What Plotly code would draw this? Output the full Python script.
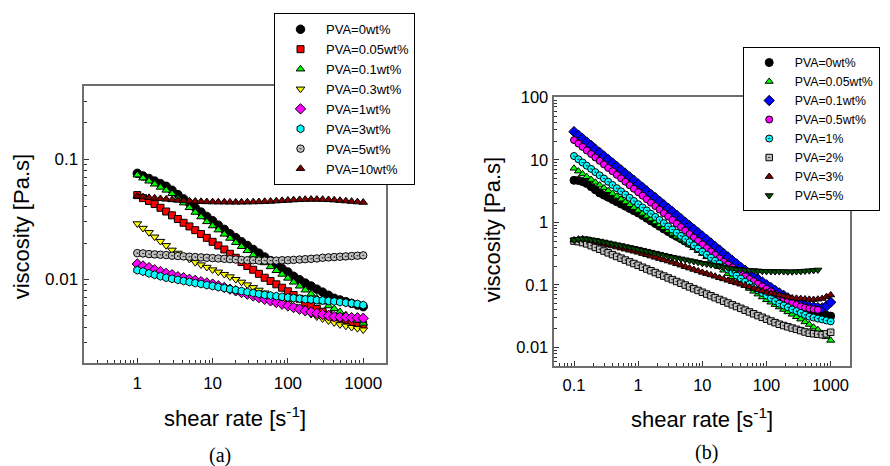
import plotly.graph_objects as go

FONT = "Liberation Sans, Arial, sans-serif"

# ---------------- panel (a) data ----------------
shear_a = [1, 1.19, 1.43, 1.70, 2.03, 2.42, 2.89, 3.46, 4.12, 4.92, 5.88, 7.02, 8.38,
           10, 11.9, 14.3, 17.0, 20.3, 24.2, 28.9, 34.6, 41.2, 49.2, 58.8, 70.2, 83.8,
           100, 119, 143, 170, 203, 242, 289, 346, 412, 492, 588, 702, 838, 1000]

a_pva0 = [0.0760, 0.0723, 0.0689, 0.0655, 0.0624, 0.0593, 0.0550, 0.0506, 0.0466, 0.0429,
          0.0394, 0.0362, 0.0333, 0.0307, 0.0282, 0.0260, 0.0239, 0.0222, 0.0205, 0.0191,
          0.0177, 0.0165, 0.0153, 0.0143, 0.0132, 0.0123, 0.0115, 0.0106, 0.00991, 0.00931,
          0.00879, 0.00828, 0.00782, 0.00736, 0.00695, 0.00673, 0.00652, 0.00631, 0.00611, 0.00592]
a_pva005 = [0.0501, 0.0473, 0.0448, 0.0422, 0.0393, 0.0366, 0.0340, 0.0317, 0.0295, 0.0275,
            0.0256, 0.0238, 0.0221, 0.0205, 0.0191, 0.0177, 0.0163, 0.0151, 0.0139, 0.0129,
            0.0120, 0.0111, 0.0103, 0.00968, 0.00908, 0.00851, 0.00794, 0.00740, 0.00689, 0.00641,
            0.00600, 0.00568, 0.00537, 0.00508, 0.00486, 0.00471, 0.00456, 0.00442, 0.00429, 0.00417]
a_pva01 = [0.0736, 0.0695, 0.0655, 0.0618, 0.0582, 0.0550, 0.0515, 0.0471, 0.0431, 0.0394,
           0.0360, 0.0330, 0.0301, 0.0278, 0.0257, 0.0237, 0.0219, 0.0202, 0.0187, 0.0173,
           0.0159, 0.0148, 0.0137, 0.0127, 0.0118, 0.0110, 0.0102, 0.00946, 0.00877, 0.00813,
           0.00753, 0.00698, 0.00646, 0.00601, 0.00568, 0.00536, 0.00505, 0.00479, 0.00454, 0.00431]
a_pva03 = [0.0290, 0.0266, 0.0245, 0.0225, 0.0207, 0.0191, 0.0175, 0.0165, 0.0156, 0.0147,
           0.0138, 0.0132, 0.0126, 0.0120, 0.0115, 0.0110, 0.0105, 0.00998, 0.00948, 0.00900,
           0.00855, 0.00813, 0.00771, 0.00733, 0.00697, 0.00661, 0.00628, 0.00597, 0.00568, 0.00538,
           0.00512, 0.00488, 0.00470, 0.00452, 0.00436, 0.00420, 0.00409, 0.00399, 0.00390, 0.00380]
a_pva1 = [0.0134, 0.0129, 0.0125, 0.0120, 0.0116, 0.0112, 0.0109, 0.0105, 0.0103, 0.0100,
          0.00980, 0.00955, 0.00933, 0.00912, 0.00883, 0.00855, 0.00828, 0.00802, 0.00776, 0.00752,
          0.00728, 0.00705, 0.00682, 0.00662, 0.00641, 0.00621, 0.00601, 0.00582, 0.00564, 0.00547,
          0.00535, 0.00521, 0.00509, 0.00498, 0.00489, 0.00485, 0.00483, 0.00480, 0.00478, 0.00474]
a_pva3 = [0.0119, 0.0116, 0.0112, 0.0109, 0.0106, 0.0103, 0.0101, 0.00989, 0.00968, 0.00950,
          0.00931, 0.00914, 0.00895, 0.00879, 0.00861, 0.00845, 0.00828, 0.00813, 0.00798, 0.00783,
          0.00769, 0.00755, 0.00741, 0.00733, 0.00724, 0.00714, 0.00706, 0.00698, 0.00690, 0.00682,
          0.00678, 0.00671, 0.00667, 0.00661, 0.00655, 0.00647, 0.00638, 0.00631, 0.00624, 0.00610]
a_pva5 = [0.0165, 0.0164, 0.0162, 0.0161, 0.0160, 0.0159, 0.0157, 0.0156, 0.0155, 0.0154,
          0.0153, 0.0152, 0.0151, 0.0150, 0.0149, 0.0148, 0.0147, 0.0146, 0.0145, 0.0144,
          0.0144, 0.0143, 0.0143, 0.0143, 0.0143, 0.0144, 0.0144, 0.0145, 0.0146, 0.0147,
          0.0148, 0.0149, 0.0151, 0.0152, 0.0153, 0.0154, 0.0155, 0.0156, 0.0157, 0.0158]
a_pva10 = [0.0490, 0.0484, 0.0478, 0.0473, 0.0468, 0.0463, 0.0458, 0.0454, 0.0450, 0.0447,
           0.0445, 0.0443, 0.0441, 0.0440, 0.0439, 0.0439, 0.0438, 0.0438, 0.0438, 0.0439,
           0.0440, 0.0441, 0.0443, 0.0445, 0.0448, 0.0451, 0.0454, 0.0457, 0.0459, 0.0461,
           0.0462, 0.0462, 0.0461, 0.0459, 0.0456, 0.0452, 0.0448, 0.0444, 0.0440, 0.0436]

# ---------------- panel (b) data ----------------
shear_b = [0.1, 0.117, 0.136, 0.158, 0.185, 0.215, 0.251, 0.293, 0.341, 0.398, 0.464, 0.541, 0.631, 0.736, 0.858,
           1, 1.17, 1.36, 1.58, 1.85, 2.15, 2.51, 2.93, 3.41, 3.98, 4.64, 5.41, 6.31, 7.36, 8.58,
           10, 11.7, 13.6, 15.8, 18.5, 21.5, 25.1, 29.3, 34.1, 39.8, 46.4, 54.1, 63.1, 73.6, 85.8,
           100, 117, 136, 158, 185, 215, 251, 293, 341, 398, 464, 541, 631, 736, 858, 1000]

b_pva0 = [4.70, 4.66, 4.47, 4.17, 3.72, 3.31, 2.95, 2.72, 2.51, 2.31, 2.13, 1.96, 1.81, 1.66, 1.53,
          1.41, 1.28, 1.16, 1.05, 0.953, 0.865, 0.783, 0.710, 0.646, 0.594, 0.546, 0.500, 0.459, 0.422, 0.386,
          0.355, 0.318, 0.286, 0.257, 0.231, 0.207, 0.186, 0.167, 0.151, 0.138, 0.126, 0.115, 0.105, 0.0955, 0.0871,
          0.0794, 0.0738, 0.0685, 0.0637, 0.0592, 0.0550, 0.0511, 0.0474, 0.0444, 0.0417, 0.0392, 0.0369, 0.0347,
          0.0337, 0.0326, 0.0316]
b_pva005 = [7.31, 6.59, 5.94, 5.36, 4.83, 4.36, 3.94, 3.55, 3.20, 2.88, 2.60, 2.34, 2.11, 1.91, 1.72,
            1.55, 1.39, 1.25, 1.13, 1.01, 0.912, 0.820, 0.738, 0.664, 0.597, 0.537, 0.483, 0.435, 0.391, 0.352,
            0.316, 0.280, 0.247, 0.219, 0.194, 0.171, 0.151, 0.134, 0.119, 0.108, 0.0970, 0.0873, 0.0787, 0.0710, 0.0638,
            0.0575, 0.0526, 0.0482, 0.0441, 0.0403, 0.0369, 0.0337, 0.0308, 0.0282, 0.0255, 0.0232, 0.0210, 0.0191,
            0.0167, 0.0147, 0.0129]
b_pva01 = [28.2, 24.8, 21.8, 19.2, 16.9, 14.8, 13.1, 11.5, 10.1, 8.89, 7.82, 6.88, 6.05, 5.32, 4.68,
           4.12, 3.62, 3.18, 2.80, 2.47, 2.17, 1.91, 1.68, 1.48, 1.30, 1.14, 1.00, 0.883, 0.777, 0.684,
           0.601, 0.529, 0.465, 0.409, 0.360, 0.316, 0.279, 0.245, 0.216, 0.190, 0.170, 0.151, 0.136, 0.123, 0.111,
           0.100, 0.0902, 0.0813, 0.0741, 0.0676, 0.0617, 0.0562, 0.0519, 0.0490, 0.0468, 0.0452, 0.0442, 0.0432,
           0.0427, 0.0457, 0.0525]
b_pva05 = [20.7, 18.2, 16.1, 14.1, 12.4, 10.9, 9.62, 8.45, 7.43, 6.55, 5.75, 5.06, 4.46, 3.92, 3.44,
           3.03, 2.67, 2.34, 2.06, 1.82, 1.60, 1.40, 1.24, 1.09, 0.955, 0.841, 0.740, 0.650, 0.572, 0.504,
           0.443, 0.389, 0.343, 0.301, 0.265, 0.233, 0.211, 0.190, 0.171, 0.153, 0.138, 0.124, 0.114, 0.104, 0.0944,
           0.0861, 0.0785, 0.0716, 0.0661, 0.0603, 0.0556, 0.0513, 0.0479, 0.0452, 0.0432, 0.0417, 0.0407, 0.0398]
b_pva1 = [11.5, 10.2, 9.06, 8.05, 7.16, 6.35, 5.65, 5.02, 4.46, 3.96, 3.52, 3.13, 2.78, 2.47, 2.19,
          1.95, 1.73, 1.55, 1.37, 1.22, 1.09, 0.968, 0.861, 0.767, 0.682, 0.607, 0.541, 0.481, 0.428, 0.381,
          0.339, 0.303, 0.272, 0.243, 0.218, 0.195, 0.175, 0.156, 0.141, 0.126, 0.112, 0.102, 0.0912, 0.0813, 0.0741,
          0.0676, 0.0610, 0.0550, 0.0501, 0.0468, 0.0437, 0.0403, 0.0380, 0.0355, 0.0331, 0.0309, 0.0299, 0.0288,
          0.0279, 0.0269, 0.0260]
b_pva2 = [0.501, 0.490, 0.473, 0.452, 0.423, 0.396, 0.371, 0.347, 0.325, 0.304, 0.284, 0.267, 0.249, 0.233, 0.219,
          0.205, 0.191, 0.179, 0.168, 0.157, 0.147, 0.138, 0.129, 0.121, 0.113, 0.106, 0.0991, 0.0927, 0.0867, 0.0813,
          0.0760, 0.0711, 0.0667, 0.0624, 0.0583, 0.0547, 0.0512, 0.0479, 0.0449, 0.0420, 0.0393, 0.0368, 0.0344, 0.0322, 0.0302,
          0.0282, 0.0264, 0.0248, 0.0234, 0.0223, 0.0213, 0.0203, 0.0194, 0.0185, 0.0176, 0.0168, 0.0165, 0.0162,
          0.0159, 0.0164, 0.0174]
b_pva3 = [0.521, 0.537, 0.543, 0.531, 0.509, 0.488, 0.468, 0.450, 0.434, 0.417, 0.401, 0.386, 0.372, 0.357, 0.344,
          0.331, 0.316, 0.302, 0.288, 0.275, 0.263, 0.251, 0.240, 0.229, 0.217, 0.206, 0.195, 0.185, 0.176, 0.167,
          0.158, 0.151, 0.144, 0.137, 0.130, 0.124, 0.118, 0.112, 0.107, 0.102, 0.0970, 0.0923, 0.0879, 0.0837, 0.0796,
          0.0759, 0.0733, 0.0708, 0.0684, 0.0661, 0.0638, 0.0617, 0.0608, 0.0601, 0.0593, 0.0586, 0.0582, 0.0589,
          0.0603, 0.0646, 0.0687]
b_pva5 = [0.521, 0.537, 0.547, 0.543, 0.528, 0.515, 0.501, 0.485, 0.469, 0.454, 0.439, 0.425, 0.410, 0.397, 0.384,
          0.372, 0.358, 0.345, 0.333, 0.321, 0.309, 0.298, 0.287, 0.277, 0.269, 0.260, 0.252, 0.244, 0.236, 0.229,
          0.221, 0.215, 0.209, 0.204, 0.198, 0.193, 0.187, 0.182, 0.178, 0.176, 0.173, 0.171, 0.169, 0.167, 0.165,
          0.164, 0.164, 0.163, 0.163, 0.163, 0.162, 0.162, 0.163, 0.164, 0.166, 0.168, 0.170, 0.173]

labels_a = ["PVA=0wt%", "PVA=0.05wt%", "PVA=0.1wt%", "PVA=0.3wt%",
            "PVA=1wt%", "PVA=3wt%", "PVA=5wt%", "PVA=10wt%"]
labels_b = ["PVA=0wt%", "PVA=0.05wt%", "PVA=0.1wt%", "PVA=0.5wt%",
            "PVA=1%", "PVA=2%", "PVA=3%", "PVA=5%"]

# styles
style_a = [("circle", "#000000", 8.5), ("square", "#ff0000", 7), ("triangle-up", "#00ff00", 7.5),
           ("triangle-down", "#ffff00", 7.5), ("diamond", "#ff00ff", 8), ("hexagon", "#00ffff", 8),
           ("circle-dot", "#c0c0c0", 7.5), ("triangle-up", "#800000", 7.5)]
style_b = [("circle", "#000000", 8), ("triangle-up", "#00ff00", 7), ("diamond", "#0000ff", 8),
           ("circle", "#ff00ff", 7), ("circle-dot", "#00ffff", 7), ("square-dot", "#c0c0c0", 6.5),
           ("triangle-up", "#800000", 7), ("triangle-down", "#005000", 7)]

ys_a = [a_pva0, a_pva005, a_pva01, a_pva03, a_pva1, a_pva3, a_pva5, a_pva10]
ys_b = [b_pva0, b_pva005, b_pva01, b_pva05, b_pva1, b_pva2, b_pva3, b_pva5]

fig = go.Figure()

for lab, y, (sym, col, sz) in zip(labels_a, ys_a, style_a):
    fig.add_trace(go.Scatter(
        x=shear_a[:len(y)], y=y, mode="markers", name=lab,
        xaxis="x", yaxis="y", legend="legend",
        marker=dict(symbol=sym, color=col, size=sz, line=dict(color="#000000", width=1))))

for lab, y, (sym, col, sz) in zip(labels_b, ys_b, style_b):
    fig.add_trace(go.Scatter(
        x=shear_b[:len(y)], y=y, mode="markers", name=lab,
        xaxis="x2", yaxis="y2", legend="legend2",
        marker=dict(symbol=sym, color=col, size=sz, line=dict(color="#000000", width=1))))

axis_common = dict(
    type="log", showline=True, mirror=True, linecolor="#6e6e6e", linewidth=1.5,
    ticks="inside", ticklen=5, tickwidth=1, tickcolor="#333333",
    showgrid=False, zeroline=False, dtick=1, tick0=0, exponentformat="none",
    tickfont=dict(family=FONT, size=17, color="#000000"),
    minor=dict(ticks="inside", ticklen=3, tickwidth=1, tickcolor="#333333", dtick="D1", showgrid=False),
)

# The page body adds an 8px offset, so the figure is 882x458 and positions are shifted by 8px.
W, H = 882, 458

fig.update_layout(
    width=W, height=H,
    margin=dict(l=0, r=0, t=0, b=0, autoexpand=False),
    paper_bgcolor="white", plot_bgcolor="white",
    font=dict(family=FONT, color="#000000"),
    xaxis=dict(axis_common, domain=[0.0865, 0.4286], range=[-0.704, 3.303], anchor="y",
               ticklabelstandoff=4),
    yaxis=dict(axis_common, domain=[0.2249, 0.8297], range=[-2.696, -0.393], anchor="x",
               ticklabelstandoff=1),
    xaxis2=dict(axis_common, domain=[0.6194, 0.9546], range=[-1.307, 3.30], anchor="y2",
                tickfont=dict(family=FONT, size=16.5, color="#000000"), ticklabelstandoff=4),
    yaxis2=dict(axis_common, domain=[0.2190, 0.8050], range=[-2.294, 2.0], anchor="x2",
                tickfont=dict(family=FONT, size=16.5, color="#000000"), ticklabelstandoff=1),
    legend=dict(x=0.3016, y=0.9884, xanchor="left", yanchor="top", bgcolor="white",
                bordercolor="#000000", borderwidth=1, font=dict(family=FONT, size=13),
                itemwidth=41),
    legend2=dict(x=0.833, y=0.9148, xanchor="left", yanchor="top", bgcolor="white",
                 bordercolor="#000000", borderwidth=1, font=dict(family=FONT, size=12.3),
                 itemwidth=41),
    annotations=[
        dict(text="viscosity [Pa.s]", x=0.0155, y=0.5225, xref="paper", yref="paper",
             xanchor="center", yanchor="middle",
             textangle=-90, showarrow=False, font=dict(family=FONT, size=22)),
        dict(text="shear rate [s<sup>-1</sup>]", x=0.2574, y=0.1076, xref="paper", yref="paper",
             xanchor="center", yanchor="middle",
             showarrow=False, font=dict(family=FONT, size=22)),
        dict(text="viscosity [Pa.s]", x=0.5502, y=0.5153, xref="paper", yref="paper",
             xanchor="center", yanchor="middle",
             textangle=-90, showarrow=False, font=dict(family=FONT, size=22)),
        dict(text="shear rate [s<sup>-1</sup>]", x=0.7865, y=0.1048, xref="paper", yref="paper",
             xanchor="center", yanchor="middle",
             showarrow=False, font=dict(family=FONT, size=22)),
        dict(text="(a)", x=0.2404, y=0.0240, xref="paper", yref="paper", showarrow=False,
             xanchor="center", yanchor="middle",
             font=dict(family="Liberation Serif, Times New Roman, serif", size=20)),
        dict(text="(b)", x=0.7922, y=0.0284, xref="paper", yref="paper", showarrow=False,
             xanchor="center", yanchor="middle",
             font=dict(family="Liberation Serif, Times New Roman, serif", size=20)),
    ],
)

fig.write_html("out.html")
